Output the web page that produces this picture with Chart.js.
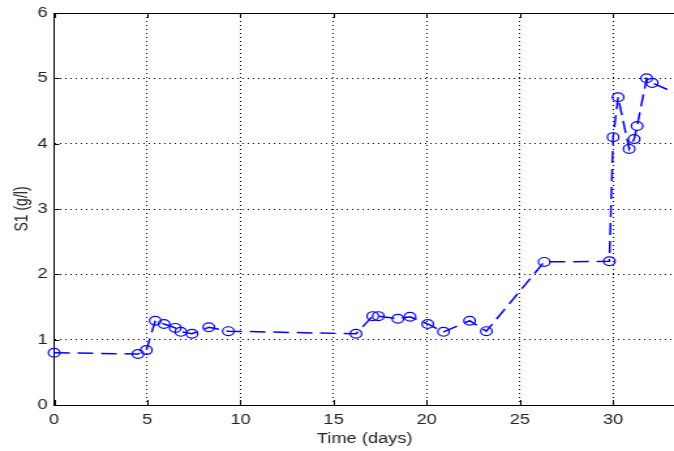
<!DOCTYPE html>
<html>
<head>
<meta charset="utf-8">
<script src="https://cdn.jsdelivr.net/npm/chart.js@4"></script>
<style>
  html, body { margin: 0; padding: 0; background: #fff; overflow: hidden; }
  /* the reference is stretched sideways, so draw narrow and stretch;
     a bit wider than the window because the axes run off the right edge */
  #wrap { width: 523.6px; height: 451px; transform: scaleX(1.3012); transform-origin: 0 0; }
</style>
</head>
<body>
<div id="wrap"><canvas id="s1Chart"></canvas></div>
<script>
const timeDays = [0, 4.5, 4.95, 5.43, 5.9, 6.5, 6.8, 7.4, 8.3, 9.35, 16.2, 17.1, 17.4, 18.45, 19.1, 20.05, 20.9, 22.3, 23.2, 26.3, 29.8, 30.0, 30.27, 30.86, 31.13, 31.29, 31.8, 32.1, 33.8];
const s1Values = [0.80, 0.78, 0.84, 1.29, 1.24, 1.18, 1.12, 1.09, 1.19, 1.13, 1.09, 1.36, 1.36, 1.32, 1.35, 1.24, 1.12, 1.29, 1.13, 2.19, 2.20, 4.10, 4.71, 3.92, 4.07, 4.27, 5.00, 4.93, 4.72];
const xTicks = [0, 5, 10, 15, 20, 25, 30];
const yTicks = [0, 1, 2, 3, 4, 5, 6];

const points = timeDays.map((t, i) => ({ x: t, y: s1Values[i] }));

// top box line and inward tick marks, matlab style
const boxPlugin = {
    id: 'box',
    afterDraw(chart) {
        const { ctx, chartArea, scales } = chart;
        ctx.save();
        ctx.strokeStyle = '#000';
        ctx.lineWidth = 1;
        ctx.beginPath();
        ctx.moveTo(chartArea.left, chartArea.top + 0.5);
        ctx.lineTo(chartArea.right, chartArea.top + 0.5);
        xTicks.forEach(v => {
            const px = Math.round(scales.x.getPixelForValue(v)) + 0.5;
            ctx.moveTo(px, chartArea.bottom);
            ctx.lineTo(px, chartArea.bottom - 5);
            ctx.moveTo(px, chartArea.top);
            ctx.lineTo(px, chartArea.top + 5);
        });
        yTicks.forEach(v => {
            const py = Math.round(scales.y.getPixelForValue(v)) + 0.5;
            ctx.moveTo(chartArea.left, py);
            ctx.lineTo(chartArea.left + 4, py);
        });
        ctx.stroke();
        ctx.restore();
    }
};

const ctx = document.getElementById('s1Chart').getContext('2d');
new Chart(ctx, {
    type: 'line',
    data: {
        datasets: [{
            data: points,
            borderColor: '#0000ff',
            borderWidth: 1.5,
            borderDash: [12, 6],
            pointRadius: 4.4,
            pointStyle: 'circle',
            pointBorderColor: '#0000ff',
            pointBackgroundColor: 'rgba(0,0,0,0)',
            pointBorderWidth: 1.2,
            tension: 0,
            clip: { left: 10, top: 10, right: 0, bottom: 10 }
        }]
    },
    options: {
        responsive: true,
        maintainAspectRatio: false,
        animation: false,
        layout: { padding: { top: 13, right: 0, left: 0, bottom: 0 } },
        plugins: { legend: { display: false }, tooltip: { enabled: false } },
        scales: {
            x: {
                type: 'linear',
                min: 0,
                max: 33.34,
                afterFit: s => { s.height = 46; s.paddingLeft = 0; s.paddingRight = 0; },
                afterBuildTicks: s => { s.ticks = xTicks.map(v => ({ value: v })); },
                ticks: { padding: 7, color: '#222', font: { family: 'Liberation Sans', size: 14 } },
                grid: { color: '#000', lineWidth: 1, drawTicks: false },
                border: { display: true, color: '#000', width: 1, dash: [1, 3] },
                title: {
                    display: true,
                    text: 'Time (days)',
                    color: '#222',
                    font: { family: 'Liberation Sans', size: 14 },
                    padding: { top: 0, bottom: 3 }
                }
            },
            y: {
                min: 0,
                max: 6,
                afterFit: s => { s.width = 41.5; s.paddingTop = 0; s.paddingBottom = 0; },
                afterBuildTicks: s => { s.ticks = yTicks.map(v => ({ value: v })); },
                ticks: { padding: 5, color: '#222', font: { family: 'Liberation Sans', size: 14 } },
                grid: { color: '#000', lineWidth: 1, drawTicks: false },
                border: { display: true, color: '#000', width: 1, dash: [1, 3] },
                title: {
                    display: true,
                    text: 'S1 (g/l)',
                    color: '#222',
                    font: { family: 'Liberation Sans', size: 14 },
                    padding: { top: 9, bottom: 0 }
                }
            }
        }
    },
    plugins: [boxPlugin]
});
</script>
</body>
</html>
